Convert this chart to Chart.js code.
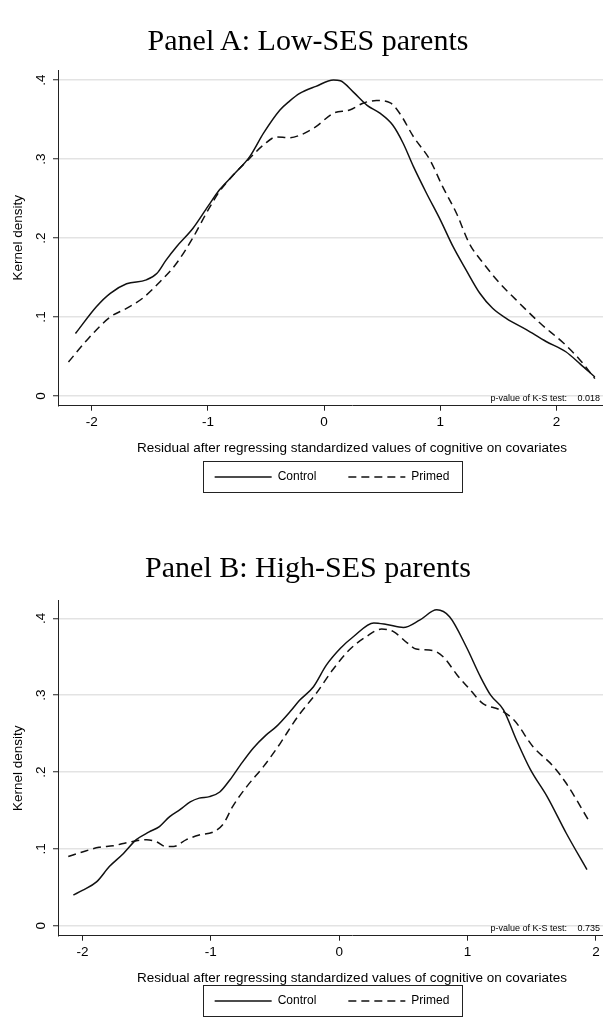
<!DOCTYPE html>
<html><head><meta charset="utf-8">
<script src="https://cdn.jsdelivr.net/npm/chart.js@4.4.1/dist/chart.umd.min.js"></script>
<style>
html,body{margin:0;padding:0;background:#fff;}
#page{position:relative;width:603px;height:1021px;overflow:hidden;background:#fff;}
.panel{position:absolute;left:0;width:603px;overflow:hidden;}
.ptitle{position:absolute;left:0;width:616px;text-align:center;font-family:"Liberation Serif",serif;font-size:30px;line-height:30px;color:#000;white-space:nowrap;}
canvas{display:block;}
</style></head><body>
<div id="page">
 <div class="panel" style="top:0;height:530px"><canvas id="chartA" width="664" height="530" style="width:664px;height:530px"></canvas></div>
 <div class="panel" style="top:530px;height:491px"><canvas id="chartB" width="664" height="530" style="width:664px;height:530px"></canvas></div>
 <div class="ptitle" id="titleA" style="top:25px"></div>
 <div class="ptitle" id="titleB" style="top:552px"></div>
</div>
<script>
// ---- data ----
const panelTitles = ['Panel A: Low-SES parents', 'Panel B: High-SES parents'];
const seriesNames = ['Control', 'Primed'];
const xAxisTitle = 'Residual after regressing standardized values of cognitive on covariates';
const yAxisTitle = 'Kernel density';
const ksLabel = 'p-value of K-S test:';
const ksPValues = ['0.018', '0.735'];
const xTickValues = [-2, -1, 0, 1, 2];
const yTickValues = [0, 0.1, 0.2, 0.3, 0.4];

const aControlX = [-2.14, -1.96, -1.84, -1.70, -1.53, -1.44, -1.36, -1.27, -1.13, -1.00, -0.90, -0.78, -0.64, -0.52, -0.38, -0.30, -0.21, -0.07, 0.08, 0.14, 0.25, 0.37, 0.48, 0.59, 0.68, 0.77, 0.88, 1.00, 1.11, 1.22, 1.34, 1.45, 1.57, 1.74, 1.91, 2.08, 2.20, 2.33];
const aControlY = [0.079, 0.113, 0.130, 0.142, 0.147, 0.155, 0.172, 0.189, 0.212, 0.240, 0.261, 0.280, 0.303, 0.333, 0.362, 0.373, 0.383, 0.392, 0.400, 0.399, 0.385, 0.368, 0.358, 0.343, 0.320, 0.290, 0.257, 0.223, 0.189, 0.160, 0.130, 0.111, 0.098, 0.084, 0.069, 0.056, 0.041, 0.024];
const aPrimedX = [-2.20, -2.04, -1.84, -1.70, -1.56, -1.41, -1.27, -1.13, -1.00, -0.90, -0.78, -0.64, -0.52, -0.41, -0.30, -0.21, -0.07, 0.08, 0.22, 0.34, 0.45, 0.57, 0.65, 0.77, 0.91, 1.02, 1.14, 1.25, 1.37, 1.51, 1.65, 1.86, 2.06, 2.20, 2.33];
const aPrimedY = [0.043, 0.071, 0.100, 0.111, 0.124, 0.145, 0.168, 0.200, 0.235, 0.259, 0.280, 0.301, 0.318, 0.328, 0.327, 0.330, 0.341, 0.358, 0.362, 0.371, 0.374, 0.371, 0.358, 0.328, 0.299, 0.265, 0.231, 0.193, 0.168, 0.143, 0.122, 0.092, 0.067, 0.046, 0.022];

const bControlX = [-2.07, -2.00, -1.89, -1.79, -1.68, -1.58, -1.48, -1.40, -1.32, -1.24, -1.16, -1.09, -1.01, -0.93, -0.85, -0.77, -0.67, -0.57, -0.49, -0.38, -0.31, -0.20, -0.10, 0.01, 0.11, 0.27, 0.37, 0.50, 0.63, 0.76, 0.86, 0.99, 1.10, 1.18, 1.28, 1.38, 1.49, 1.62, 1.77, 1.93];
const bControlY = [0.040, 0.046, 0.057, 0.077, 0.094, 0.112, 0.122, 0.129, 0.142, 0.151, 0.161, 0.166, 0.168, 0.174, 0.190, 0.209, 0.231, 0.248, 0.259, 0.279, 0.293, 0.311, 0.339, 0.361, 0.376, 0.394, 0.392, 0.388, 0.398, 0.411, 0.402, 0.363, 0.324, 0.300, 0.281, 0.242, 0.203, 0.168, 0.120, 0.073];
const bPrimedX = [-2.11, -2.00, -1.87, -1.76, -1.63, -1.50, -1.42, -1.35, -1.29, -1.19, -1.09, -0.98, -0.90, -0.83, -0.72, -0.59, -0.46, -0.36, -0.31, -0.18, -0.05, 0.08, 0.21, 0.33, 0.42, 0.53, 0.60, 0.73, 0.81, 0.92, 1.02, 1.12, 1.25, 1.36, 1.51, 1.67, 1.77, 1.94];
const bPrimedY = [0.090, 0.096, 0.102, 0.104, 0.109, 0.112, 0.109, 0.103, 0.103, 0.112, 0.118, 0.122, 0.133, 0.155, 0.181, 0.207, 0.237, 0.263, 0.275, 0.302, 0.333, 0.359, 0.376, 0.386, 0.383, 0.368, 0.360, 0.358, 0.350, 0.326, 0.307, 0.289, 0.281, 0.268, 0.233, 0.207, 0.185, 0.138];

// axis ranges of each panel
const aXRange = [-2.29, 2.77];
const aYRange = [-0.0123, 0.4127];
const bXRange = [-2.19, 2.39];
const bYRange = [-0.013, 0.4229];

// ---- rendering ----
document.getElementById('titleA').textContent = panelTitles[0];
document.getElementById('titleB').textContent = panelTitles[1];

const SANS = '"Liberation Sans", Arial, sans-serif';
const INK = '#111';
const LEG_PAD = 32;
const fmtY = v => v === 0 ? '0' : v.toFixed(1).replace(/^0/, '');

const stataExtras = {
  id: 'stataExtras',
  afterLayout(chart) {
    const lg = chart.legend;
    lg.left += 9;
    lg.right += 9;
  },
  beforeDraw(chart) {
    const s = chart.scales.y;
    const items = s.getLabelItems();
    items.forEach(it => {
      it.options.textAlign = 'center';
      it.options.textBaseline = 'middle';
      it.options.translation = [s.right - 16.5, it.options.translation[1]];
    });
  },
  afterDraw(chart, args, opts) {
    const ctx = chart.ctx, ca = chart.chartArea;
    ctx.save();
    ctx.fillStyle = '#000';
    ctx.font = '9px ' + SANS;
    ctx.textBaseline = 'middle';
    ctx.textAlign = 'right';
    const y = ca.bottom - 7;
    ctx.fillText(opts.value, 600, y);
    ctx.fillText(opts.label, 567, y);
    const hb = chart.legend.legendHitBoxes;
    const l = Math.min(...hb.map(h => h.left)) - 12;
    const r = Math.max(...hb.map(h => h.left + h.width)) + 12;
    const cy = hb[0].top + hb[0].height / 2;
    ctx.strokeStyle = '#222';
    ctx.lineWidth = 1;
    ctx.strokeRect(Math.round(l) + 0.5, Math.round(cy - 16) + 0.5, Math.round(r - l), 31);
    ctx.restore();
  }
};

function makePanel(id, cx, cy, px, py, xr, yr, top, pval, shift) {
  const lineDs = (label, xs, ys, dash) => ({
    label,
    data: xs.map((x, i) => ({ x, y: ys[i] })),
    showLine: true,
    borderColor: INK,
    backgroundColor: INK,
    borderWidth: 1.5,
    borderDash: dash,
    pointRadius: 0,
    pointHoverRadius: 0,
    cubicInterpolationMode: 'monotone',
    fill: false
  });
  return new Chart(document.getElementById(id), {
    type: 'scatter',
    data: {
      datasets: [
        lineDs(seriesNames[0], cx, cy, []),
        lineDs(seriesNames[1], px, py, [8, 5])
      ]
    },
    options: {
      responsive: false,
      animation: false,
      devicePixelRatio: 1,
      events: [],
      layout: { padding: { top: top, left: 0, right: 18, bottom: 37 + shift } },
      plugins: {
        legend: {
          position: 'bottom',
          labels: {
            usePointStyle: true,
            pointStyle: 'line',
            pointStyleWidth: 57,
            boxHeight: 12,
            padding: LEG_PAD,
            color: '#000',
            font: { family: SANS, size: 12 },
            generateLabels: chart => Chart.defaults.plugins.legend.labels.generateLabels(chart).map((it, i) => Object.assign(it, {
              lineDash: chart.data.datasets[i].borderDash,
              lineWidth: chart.data.datasets[i].borderWidth,
              strokeStyle: chart.data.datasets[i].borderColor,
              pointStyle: 'line'
            }))
          }
        },
        tooltip: { enabled: false },
        stataExtras: { value: pval, label: ksLabel }
      },
      scales: {
        x: {
          type: 'linear',
          min: xr[0], max: xr[1],
          afterBuildTicks: s => { s.ticks = xTickValues.map(v => ({ value: v })); },
          afterFit: s => { s.height = 33.3 - shift; },
          grid: { drawOnChartArea: false, drawTicks: true, tickLength: 5, tickColor: '#222', tickWidth: 1 },
          border: { display: true, color: '#222', width: 1 },
          ticks: { color: '#000', padding: 3, maxRotation: 0, font: { family: SANS, size: 13.5 } },
          title: { display: true, text: xAxisTitle, color: '#000', font: { family: SANS, size: 13.5 }, padding: { top: 0, bottom: -17 - shift } }
        },
        y: {
          type: 'linear',
          min: yr[0], max: yr[1],
          afterBuildTicks: s => { s.ticks = yTickValues.map(v => ({ value: v })); },
          afterFit: s => { s.width = 58; },
          grid: { color: '#e3e3e3', lineWidth: 1.5, drawTicks: true, tickLength: 5, tickColor: '#222', tickWidth: 1 },
          border: { display: true, color: '#222', width: 1 },
          ticks: { color: '#000', minRotation: 90, maxRotation: 90, padding: 3, callback: v => fmtY(v), font: { family: SANS, size: 13.5 } },
          title: { display: true, text: yAxisTitle, color: '#000', font: { family: SANS, size: 13.5 }, padding: { top: 9.9, bottom: 0 } }
        }
      }
    },
    plugins: [stataExtras]
  });
}

makePanel('chartA', aControlX, aControlY, aPrimedX, aPrimedY, aXRange, aYRange, 70, ksPValues[0], 0);
makePanel('chartB', bControlX, bControlY, bPrimedX, bPrimedY, bXRange, bYRange, 70.7, ksPValues[1], 6);
</script>
</body></html>
